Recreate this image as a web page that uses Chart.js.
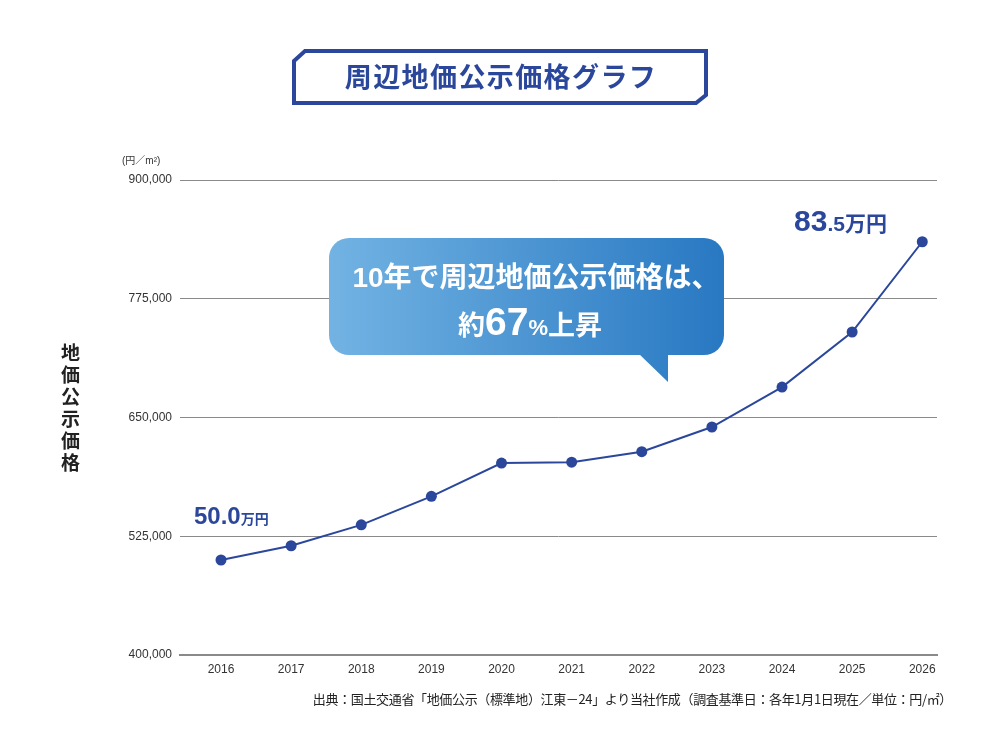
<!DOCTYPE html>
<html lang="ja">
<head>
<meta charset="utf-8">
<script src="https://cdn.jsdelivr.net/npm/chart.js@4/dist/chart.umd.min.js"></script>
<style>
  html, body { margin: 0; padding: 0; background: #fff; }
  body { width: 1001px; height: 750px; position: relative; overflow: hidden;
         font-family: "Liberation Sans", "Noto Sans CJK JP", sans-serif; }
  #wrap { position: absolute; left: 0; top: 0; width: 1001px; height: 750px; }
  #deco { position: absolute; left: 0; top: 0; pointer-events: none; }
  .txt { position: absolute; white-space: nowrap; }
</style>
</head>
<body>
<div id="wrap"><canvas id="priceChart" width="1001" height="750"></canvas></div>

<svg id="deco" width="1001" height="750">
  <defs>
    <linearGradient id="bubble" gradientUnits="userSpaceOnUse" x1="329" y1="0" x2="724" y2="0">
      <stop offset="0" stop-color="#72b3e3"/>
      <stop offset="1" stop-color="#2878c2"/>
    </linearGradient>
  </defs>
  <!-- title frame -->
  <polygon points="294,61 305,51 706,51 706,95 696,103 294,103"
           fill="none" stroke="#2B479C" stroke-width="4"/>
  <!-- callout -->
  <rect x="329" y="238" width="395" height="117" rx="20" ry="20" fill="url(#bubble)"/>
  <polygon points="638,353 668,353 668,382" fill="url(#bubble)"/>
</svg>

<div class="txt" style="left:292px;top:61px;width:418px;text-align:center;font:bold 27px/30px 'Noto Sans CJK JP';letter-spacing:1.4px;color:#2B479C;">周辺地価公示価格グラフ</div>

<div class="txt" style="left:336px;top:261px;width:400px;text-align:center;font-weight:bold;font-size:28px;line-height:34px;color:#fff;">10年で周辺地価公示価格は、</div>
<div class="txt" style="left:329px;top:302px;width:402px;text-align:center;font-weight:bold;line-height:40px;color:#fff;"><span style="font-size:27px;">約</span><span style="font-size:39px;">67</span><span style="font-size:22px;">%</span><span style="font-size:27px;">上昇</span></div>

<div class="txt" style="left:194px;top:503px;font-weight:bold;line-height:26px;color:#2B479C;"><span style="font-size:24px;">50.0</span><span style="font-size:14px;">万円</span></div>
<div class="txt" style="left:794px;top:205px;font-weight:bold;line-height:32px;color:#2B479C;"><span style="font-size:30px;">83</span><span style="font-size:21px;">.5万円</span></div>

<div class="txt" style="left:122px;top:155px;font-size:10px;line-height:12px;color:#333;">(円／m²)</div>

<div class="txt" style="left:59px;top:343px;writing-mode:vertical-rl;font:bold 19px/22px 'Noto Sans CJK JP';letter-spacing:3px;color:#222;">地価公示価格</div>

<div class="txt" style="right:49px;top:690px;font:13px/18px 'Noto Sans CJK JP';letter-spacing:-0.35px;color:#222;">出典：国土交通省「地価公示（標準地）江東－24」より当社作成（調査基準日：各年1月1日現在／単位：円/㎡）</div>

<script>
const years  = [2016, 2017, 2018, 2019, 2020, 2021, 2022, 2023, 2024, 2025, 2026];
const prices = [500000, 515000, 537000, 567000, 602000, 603000, 614000, 640000, 682000, 740000, 835000];
const yTicks = [400000, 525000, 650000, 775000, 900000];

const BLUE = '#2B479C';
const GRID = '#8a8a8a';

new Chart('priceChart', {
  type: 'line',
  data: {
    datasets: [{
      data: years.map((yr, i) => ({ x: yr, y: prices[i] })),
      borderColor: BLUE,
      borderWidth: 2,
      pointRadius: 5.5,
      pointBackgroundColor: BLUE,
      pointBorderWidth: 0,
      tension: 0
    }]
  },
  options: {
    responsive: false,
    animation: false,
    layout: { padding: { left: 0, top: 180, right: 64, bottom: 65 } },
    plugins: { legend: { display: false }, tooltip: { enabled: false } },
    scales: {
      x: {
        type: 'linear',
        min: 2015.415, max: 2026.21,
        afterBuildTicks: s => { s.ticks = years.map(v => ({ value: v })); },
        afterFit: s => { s.height = 30; },
        grid: { display: false },
        border: { display: true, color: GRID, width: 2 },
        ticks: {
          padding: -1,
          color: '#333',
          font: { family: 'Liberation Sans', size: 12 },
          callback: v => String(v)
        }
      },
      y: {
        min: 400000, max: 900000,
        afterBuildTicks: s => { s.ticks = yTicks.map(v => ({ value: v })); },
        afterFit: s => { s.width = 180; },
        grid: { color: GRID, lineWidth: 1, drawTicks: false },
        border: { display: false },
        ticks: {
          padding: 8,
          color: '#333',
          font: { family: 'Liberation Sans', size: 12 },
          callback: v => v.toLocaleString('en-US')
        }
      }
    }
  }
});
</script>
</body>
</html>
